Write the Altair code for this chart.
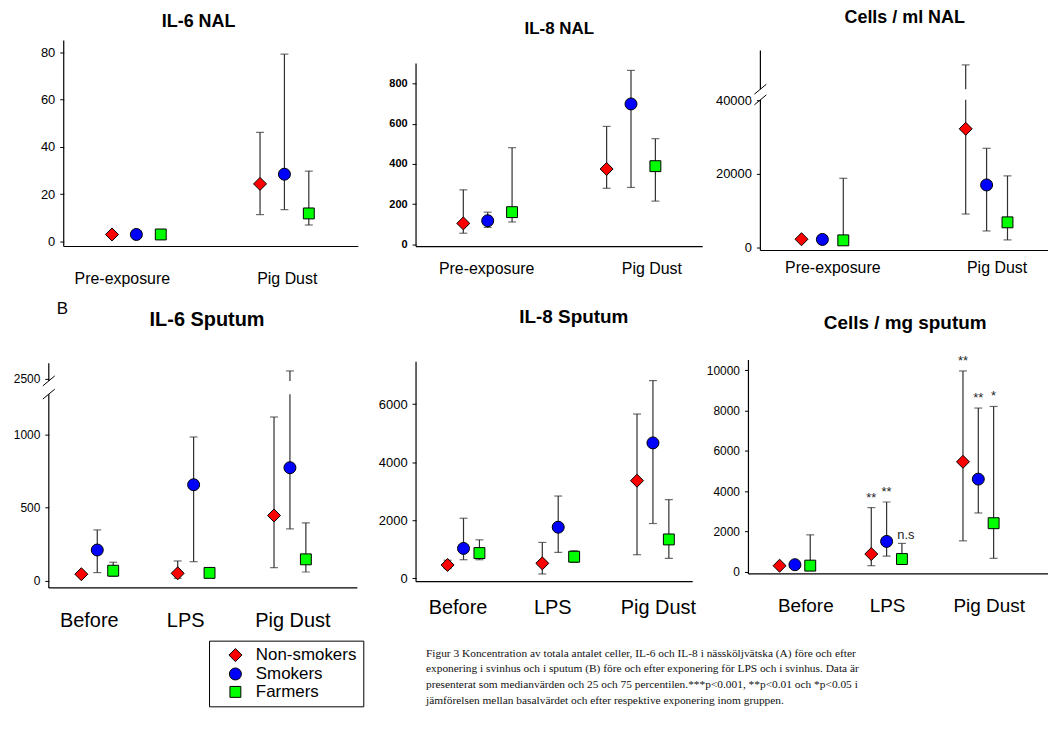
import altair as alt
import pandas as pd

FONT = "Liberation Sans"
SERIF = "Liberation Serif"

groups = ["Non-smokers", "Smokers", "Farmers"]
group_colors = ["#ff0000", "#0000ff", "#00ff00"]
group_shapes = ["diamond", "circle", "square"]
group_sizes = [170, 120, 95]

nal_cats = ["Pre-exposure", "Pig Dust"]
sput_cats = ["Before", "LPS", "Pig Dust"]

# values: category-major, group-minor (Non-smokers, Smokers, Farmers)
il6_nal_med = [3.0, 3.0, 3.0, 24.4, 28.5, 11.9]
il6_nal_lo = [None, None, None, 11.4, 13.5, 7.0]
il6_nal_hi = [None, None, None, 46.2, 79.3, 29.8]

il8_nal_med = [104, 117, 160, 375, 699, 389]
il8_nal_lo = [55, 84, 111, 279, 283, 215]
il8_nal_hi = [271, 160, 481, 587, 866, 526]

cells_nal_med = [2250, 2200, 1950, 32250, 17000, 6840]
cells_nal_lo = [None, None, None, 9100, 4500, 2070]
cells_nal_hi = [None, None, 18800, 49600, 26950, 19460]

il6_sp_med = [44, 210, 68, 50, 658, 53, 447, 775, 146]
il6_sp_lo = [None, 55, 30, 16, 130, None, 89, 355, 59]
il6_sp_hi = [None, 348, 126, 135, 986, None, 1123, 2700, 396]

il8_sp_med = [456, 1028, 867, 514, 1759, 741, 3360, 4662, 1337]
il8_sp_lo = [330, 638, 638, 147, 891, 549, 810, 1885, 685]
il8_sp_hi = [620, 2067, 1323, 1234, 2832, 946, 5657, 6808, 2708]

cells_sp_med = [297, 346, 300, 875, 1503, 628, 5457, 4597, 2407]
cells_sp_lo = [None, None, None, 297, 776, None, 1532, 2916, 662]
cells_sp_hi = [None, None, 1829, 3183, 3460, 1404, 9970, 8127, 8206]

sig_cat = ["LPS", "LPS", "LPS", "Pig Dust", "Pig Dust", "Pig Dust"]
sig_group = ["Non-smokers", "Smokers", "Farmers", "Non-smokers", "Smokers", "Farmers"]
sig_text = ["**", "**", "n.s", "**", "**", "*"]

caption_lines = [
    "Figur 3 Koncentration av totala antalet celler, IL-6 och IL-8 i nässköljvätska (A) före och efter",
    "exponering i svinhus och i sputum (B) före och efter exponering för LPS och i svinhus. Data är",
    "presenterat som medianvärden och 25 och 75 percentilen.***p<0.001, **p<0.01 och *p<0.05 i",
    "jämförelsen mellan basalvärdet och efter respektive exponering inom gruppen.",
]

LEGEND = alt.Legend(
    title=None, orient="none", legendX=161, legendY=603,
    strokeColor="black", fillColor="white", padding=6,
    labelFont=FONT, labelFontSize=17, labelColor="black",
    symbolSize=130, symbolStrokeColor="black", symbolStrokeWidth=1, symbolOffset=12,
    rowPadding=0, labelOffset=12,
)


def make_df(cats, med, lo, hi):
    rows = []
    k = 0
    for c in cats:
        for g in groups:
            rows.append(dict(cat=c, group=g, med=med[k], lo=lo[k], hi=hi[k]))
            k += 1
    return pd.DataFrame(rows)


def panel(p):
    cats = p["cats"]
    df = make_df(cats, p["med"], p["lo"], p["hi"])
    W, H = p["W"], p["H"]
    c, d = p["off"]
    yx = p.get("yx", 0)
    xaxis = alt.Axis(
        domain=False, ticks=False, tickSize=0, labelAngle=0,
        labelFont=FONT, labelFontSize=p["xfs"], labelColor="black",
        labelPadding=p["xpad"], labelOffset=p["xoff"], title=None,
    )
    xenc = alt.X("cat:N", sort=cats,
                 scale=alt.Scale(domain=cats, range=p["xr"], paddingInner=0, paddingOuter=0),
                 axis=xaxis, title=None)
    xoff = alt.XOffset("group:N", sort=groups,
                       scale=alt.Scale(domain=groups, range=[c - 1.5 * d, c + 1.5 * d],
                                       paddingInner=0, paddingOuter=0))
    sc = dict(domain=p["yd"], nice=False, zero=False)
    if "yr" in p:
        sc["range"] = p["yr"]
    yscale = alt.Scale(**sc)
    yaxis = alt.Axis(
        values=p["yticks"], format="d", domain=False, grid=False, tickSize=4,
        tickColor="black", tickWidth=1, labelFont=FONT, labelFontSize=p["yfs"],
        labelColor="black", labelFontWeight=p.get("yfw", "normal"), labelPadding=5,
        offset=p.get("yshift", 0), title=None, labelOverlap=False,
    )

    def Y(field):
        return alt.Y(field, scale=yscale, axis=yaxis, title=None)

    def YD(v):
        return alt.YDatum(v, scale=yscale, axis=yaxis, title=None, type="quantitative")

    wdf = df[df["lo"].notna() | df["hi"].notna()].copy()
    wdf["wlo"] = wdf["lo"].fillna(wdf["med"])
    wdf["whi"] = wdf["hi"].fillna(wdf["med"])
    caps = pd.concat([
        df[["cat", "group", "lo"]].rename(columns={"lo": "v"}),
        df[["cat", "group", "hi"]].rename(columns={"hi": "v"}),
    ]).dropna()

    whisk = alt.Chart(wdf).mark_rule(color="#303030", strokeWidth=1.2).encode(
        x=xenc, xOffset=xoff, y=Y("wlo:Q"), y2="whi:Q",
    )
    capm = alt.Chart(caps).mark_tick(color="#303030", thickness=1.2, size=8,
                                     orient="horizontal").encode(
        x=xenc, xOffset=xoff, y=Y("v:Q"),
    )
    one = pd.DataFrame({"a": [0]})
    ax0, ax1 = p["ax"]
    yline = alt.Chart(one).mark_rule(color="black", strokeWidth=1.2).encode(
        x=alt.value(yx), y=YD(ax0), y2=alt.Y2Datum(ax1),
    )
    xline = alt.Chart(one).mark_rule(color="black", strokeWidth=1.2).encode(
        x=alt.value(yx), x2=alt.value(p["xend"]), y=YD(ax0),
    )
    layers = [whisk, capm, yline, xline]
    if "brk" in p:
        b0, b1 = p["brk"]
        band = alt.Chart(one).mark_rect(color="white").encode(
            x=alt.value(yx - 9), x2=alt.value(W),
            y=YD(b0), y2=alt.Y2Datum(b1),
        )
        layers.append(band)
        for s0, s1 in p["slash"]:
            layers.append(alt.Chart(one).mark_rule(color="black", strokeWidth=1).encode(
                x=alt.value(yx - 6), x2=alt.value(yx + 6),
                y=YD(s0), y2=alt.Y2Datum(s1),
            ))
    pts = alt.Chart(df).mark_point(filled=True, opacity=1, stroke="black", strokeWidth=1).encode(
        x=xenc, xOffset=xoff, y=Y("med:Q"),
        color=alt.Color("group:N", sort=groups,
                        scale=alt.Scale(domain=groups, range=group_colors), legend=LEGEND),
        shape=alt.Shape("group:N", sort=groups,
                        scale=alt.Scale(domain=groups, range=group_shapes), legend=LEGEND),
        size=alt.Size("group:N", sort=groups,
                      scale=alt.Scale(domain=groups, range=group_sizes), legend=None),
    )
    layers.append(pts)
    if p.get("sig"):
        sdf = pd.DataFrame({"cat": sig_cat, "group": sig_group, "txt": sig_text})
        sdf = sdf.merge(df[["cat", "group", "hi"]], on=["cat", "group"])
        stars = alt.Chart(sdf[sdf["txt"] != "n.s"]).mark_text(
            font=FONT, fontSize=13, color="#222", baseline="middle", dy=-10).encode(
            x=xenc, xOffset=xoff, y=Y("hi:Q"), text="txt:N")
        ns = alt.Chart(sdf[sdf["txt"] == "n.s"]).mark_text(
            font=FONT, fontSize=13, color="#222", baseline="middle", dx=4, dy=-8).encode(
            x=xenc, xOffset=xoff, y=Y("hi:Q"), text="txt:N")
        layers += [stars, ns]
    if p.get("label"):
        t, lx, ly = p["label"]
        lab = alt.Chart(pd.DataFrame({"t": [t]})).mark_text(
            font=FONT, fontSize=17, align="left", baseline="middle", color="black").encode(
            x=alt.value(lx), y=alt.value(ly), text="t:N")
        layers.append(lab)
    if p.get("caption"):
        cx, cy = p["caption"]
        cap = alt.Chart(pd.DataFrame({"t": ["\n".join(caption_lines)]})).mark_text(
            font=SERIF, fontSize=11.45, align="left", baseline="top", lineBreak="\n",
            lineHeight=16, color="#111").encode(
            x=alt.value(cx), y=alt.value(cy), text="t:N")
        layers.append(cap)
    ch = alt.layer(*layers).properties(
        width=W, height=H,
        title=alt.Title(p["title"], font=FONT, fontSize=p["tfs"], fontWeight="bold",
                        anchor="middle", frame="group", offset=p["toff"],
                        dx=p.get("tdx", 0), color="black"),
    )
    return ch


H1, H2 = 211, 229

P1 = panel(dict(title="IL-6 NAL", tfs=18, toff=9, tdx=-5, cats=nal_cats, med=il6_nal_med,
                lo=il6_nal_lo, hi=il6_nal_hi, W=311, H=H1, xr=[13.5, 311], off=(74.5, 24.5),
                yd=[-3.79, 85.05], yticks=[0, 20, 40, 60, 80], ax=(-2.1, 85.05), yx=15, yshift=-15,
                xend=311, yfs=13, xfs=16, xpad=20, label=("B", 8, 270),
                xoff={"condition": {"test": "datum.value === 'Pig Dust'", "value": 3}, "value": -14}))
P2 = panel(dict(title="IL-8 NAL", tfs=17, toff=3, cats=nal_cats, med=il8_nal_med, lo=il8_nal_lo,
                hi=il8_nal_hi, W=288, H=H1, xr=[0, 288], off=(72, 24.5),
                yd=[-31.2, 1014.9], yticks=[0, 200, 400, 600, 800], ax=(-11.4, 900.8),
                xend=288, yfs=11, yfw="bold", xfs=16, xpad=10,
                xoff={"condition": {"test": "datum.value === 'Pig Dust'", "value": 21}, "value": -1}))
P3 = panel(dict(title="Cells / ml NAL", tfs=18, toff=14, cats=nal_cats, med=cells_nal_med,
                lo=cells_nal_lo, hi=cells_nal_hi, W=290, H=H1, xr=[-20.2, 309.8], off=(82.5, 21),
                yd=[-811, 56216], yticks=[0, 20000, 40000], ax=(-811, 53514),
                brk=(40100, 43000), slash=[(38750, 41460), (41650, 44350)],
                xend=290, yfs=13, xfs=16, xpad=9, xoff=10.5))

P4 = panel(dict(title="IL-6 Sputum", tfs=20, toff=30, tdx=4, cats=sput_cats, med=il6_sp_med,
                lo=il6_sp_lo, hi=il6_sp_hi, W=310, H=H2, xr=[0.3, 290.7], off=(48.4, 16),
                yd=[-50, 1280, 2450, 2975], yr=[229, 34.3, 21, 0], yticks=[0, 500, 1000, 2500],
                ax=(-50, 2892), brk=(1280, 2450), slash=[(1246, 1720), (2010, 2575)],
                xend=310, yfs=12, xfs=20, xpad=23,
                xoff={"condition": {"test": "datum.value === 'Pig Dust'", "value": 3}, "value": -8}))
P5 = panel(dict(title="IL-8 Sputum", tfs=19, toff=33, tdx=20, cats=sput_cats, med=il8_sp_med,
                lo=il8_sp_lo, hi=il8_sp_hi, W=277, H=H2, xr=[0.1, 285.6], off=(47.6, 16),
                yd=[-332.5, 7518], yticks=[0, 2000, 4000, 6000], ax=(-117, 7460),
                xend=278, yfs=13, xfs=20, xpad=10, caption=(10, 289),
                xoff={"condition": {"test": "datum.value === 'Pig Dust'", "value": 5.5}, "value": -5.5}))
P6 = panel(dict(title="Cells / mg sputum", tfs=19, toff=22, cats=sput_cats, med=cells_sp_med,
                lo=cells_sp_lo, hi=cells_sp_hi, W=291, H=H2, xr=[-11.4, 265], off=(46.1, 15.4),
                yd=[-805.7, 10514], yticks=[0, 2000, 4000, 6000, 8000, 10000], ax=(-114, 10514),
                yx=-12, yshift=12,
                xend=291, yfs=12, xfs=19, xpad=9, sig=True,
                xoff={"condition": {"test": "datum.value === 'LPS'", "value": 1}, "value": 11}))

chart = alt.concat(
    P1, P2, P3, P4, P5, P6, columns=3, spacing={"row": 110, "column": 58}, bounds="flush"
).resolve_scale(
    color="shared", shape="shared", size="shared", xOffset="independent"
).properties(
    padding={"left": 5, "top": -1, "right": -41, "bottom": 0}
).configure(font=FONT).configure_view(stroke="transparent", strokeWidth=0)

chart.save("out.html", embed_options={"renderer": "svg", "actions": False})
